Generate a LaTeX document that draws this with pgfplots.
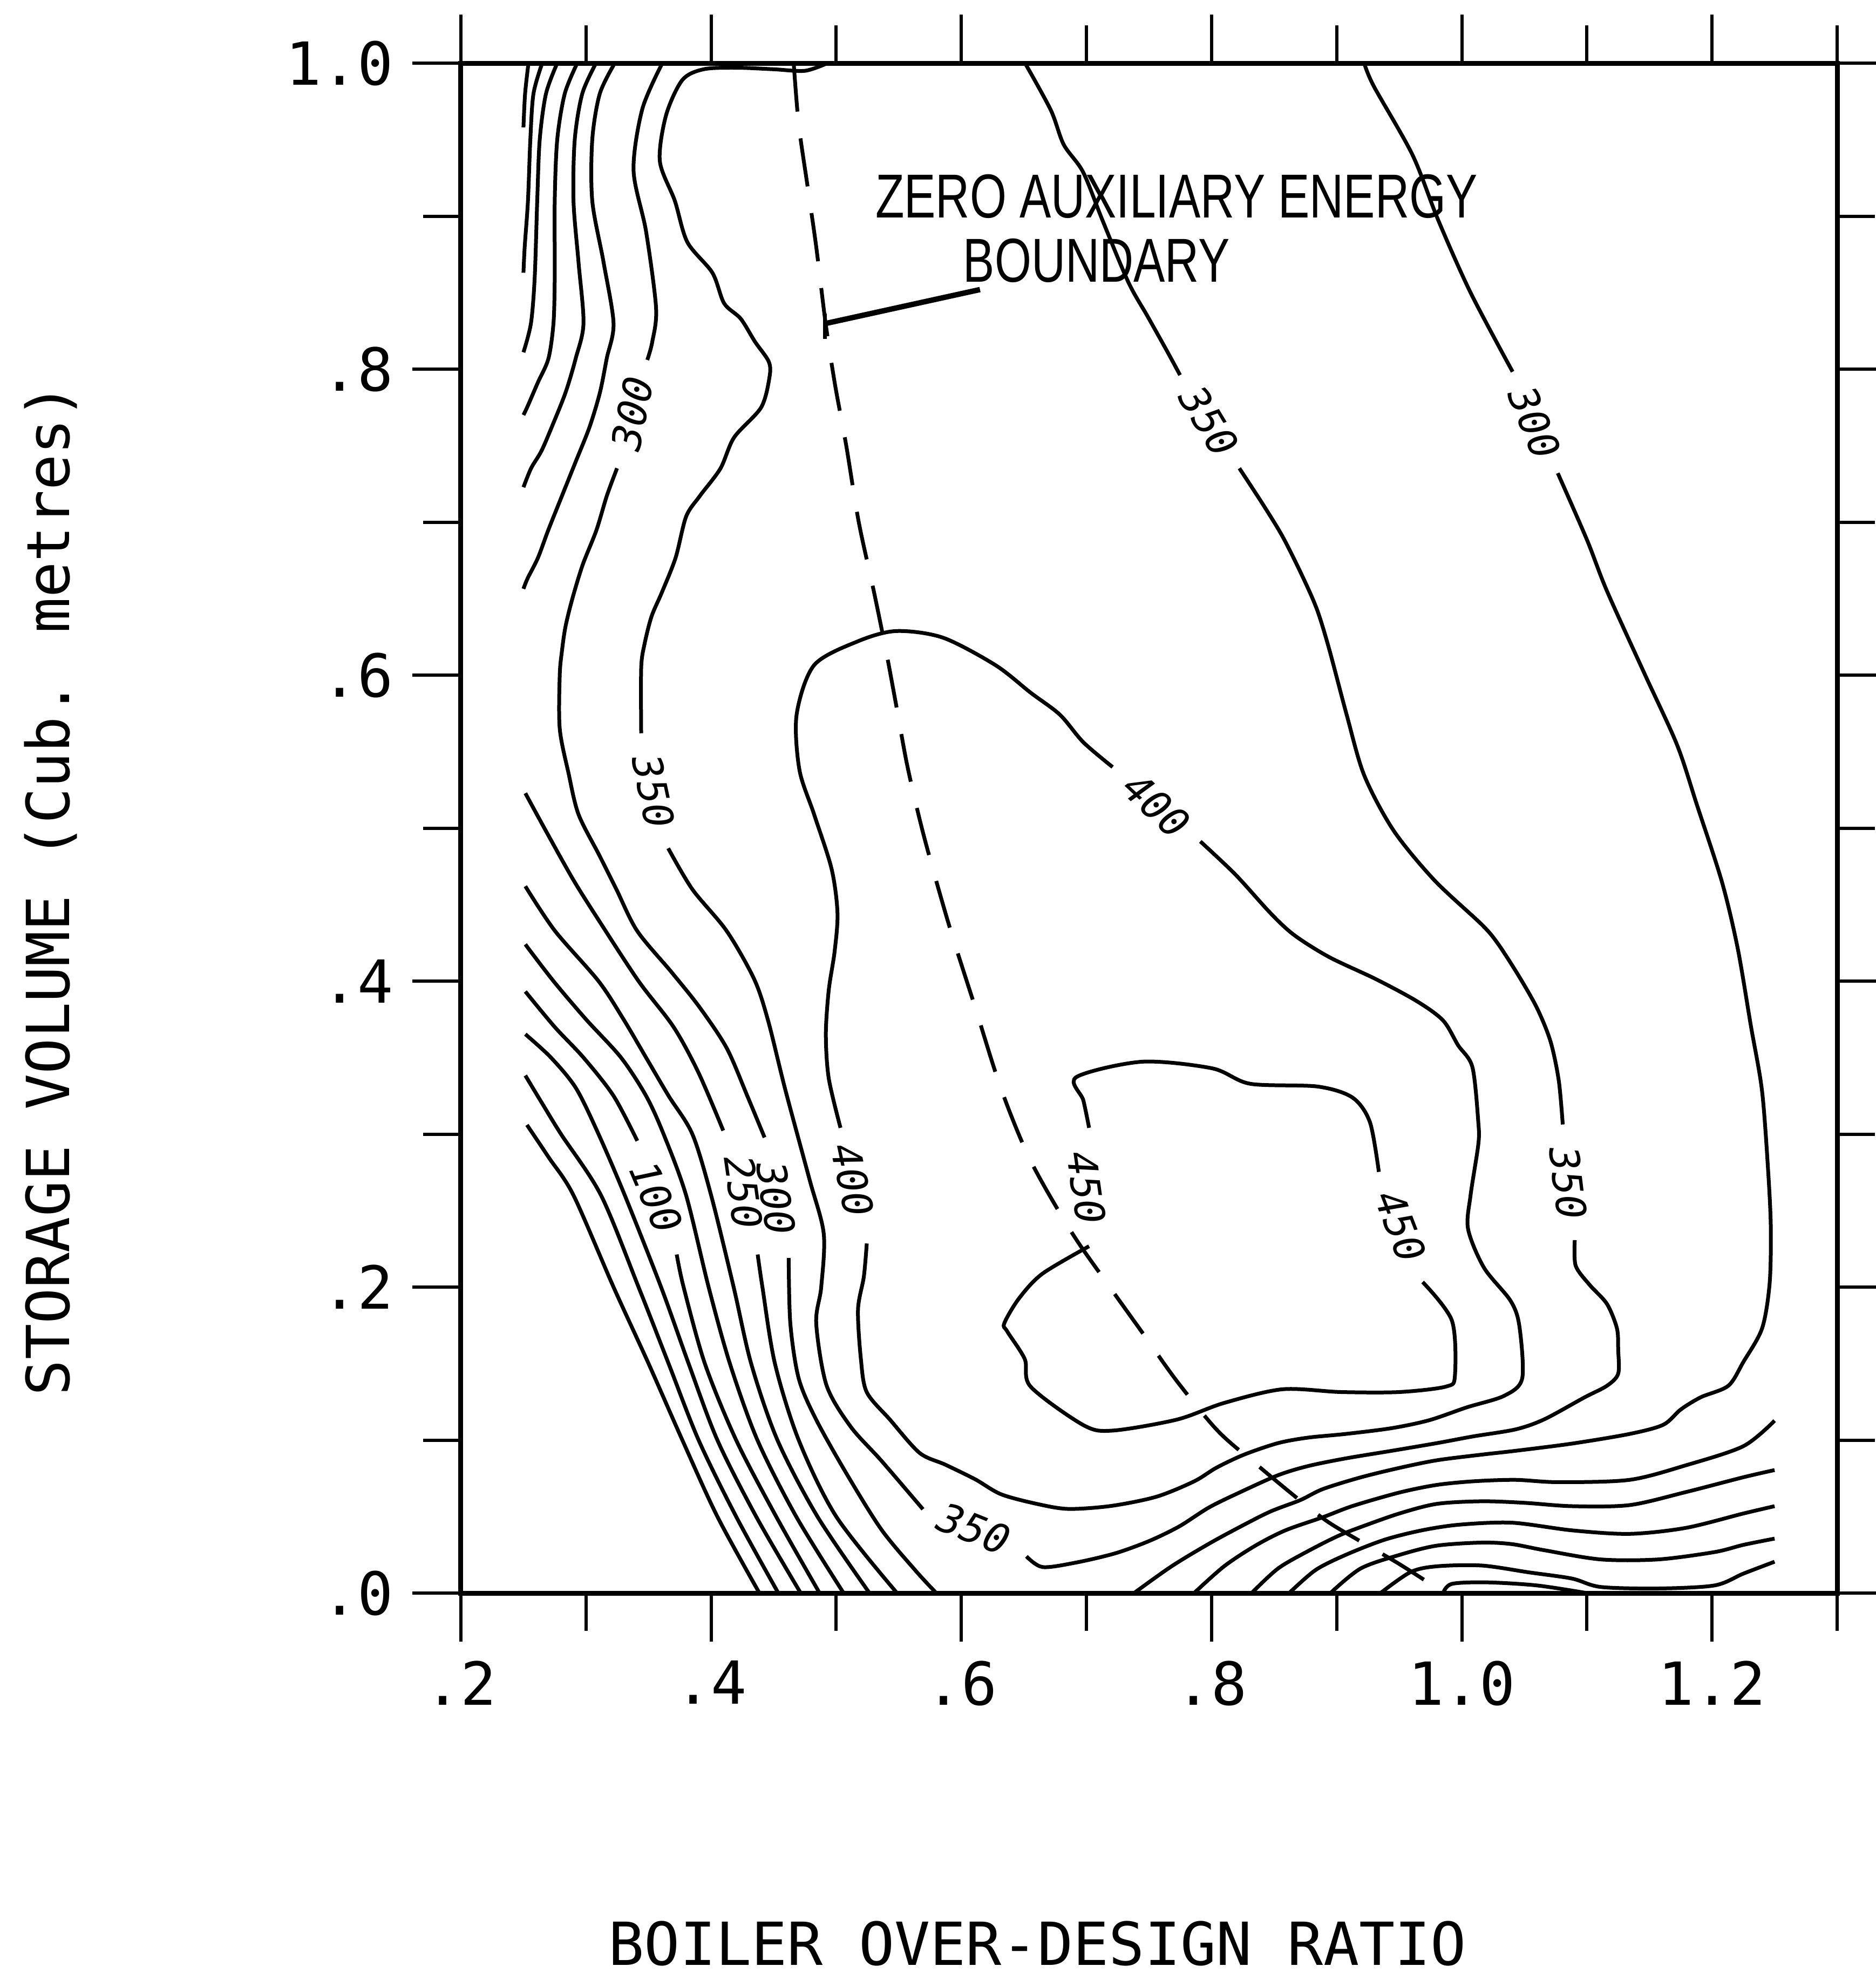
\documentclass[border=0pt]{standalone}
\usepackage{fontspec}
\usepackage{graphicx}
\usepackage{pgfplots}
\pgfplotsset{compat=1.18}
\setmainfont{DejaVu Sans Mono}
\newfontfamily\annfont{Liberation Sans}
\newfontfamily\labfont{DejaVu Sans Mono}
\newcommand\clab{\labfont\itshape\fontsize{7.5}{8}\selectfont}
\begin{document}
\begin{tikzpicture}
\begin{axis}[
  scale only axis, width=255pt, height=283.5pt,
  xmin=0.2, xmax=1.3, ymin=0, ymax=1,
  axis line style={line width=0.9pt},
  tick align=outside,
  major tick length=9pt, minor tick length=7pt,
  every tick/.style={black,line width=0.6pt},
  xtick={0.2,0.4,0.6,0.8,1.0,1.2}, xticklabels={.2,.4,.6,.8,1.0,1.2},
  minor xtick={0.3,0.5,0.7,0.9,1.1,1.3},
  ytick={0,0.2,0.4,0.6,0.8,1.0}, yticklabels={.0,.2,.4,.6,.8,1.0},
  minor ytick={0.1,0.3,0.5,0.7,0.9},
  tick label style={font=\fontsize{11}{13}\selectfont},
  xlabel={BOILER OVER-DESIGN RATIO},
  ylabel={STORAGE VOLUME (Cub. metres)},
  label style={font=\fontsize{11}{13}\selectfont},
  xlabel style={at={(axis description cs:0.419,-0.229)},anchor=center},
  ylabel style={at={(axis description cs:-0.298,0.46)},anchor=center},
  cycle list={{black,solid}},
  every axis plot/.append style={line width=0.7pt, black, smooth, no marks},
]
% ---------- top-left family (0 ... 250)
\addplot coordinates {(0.254,1.0) (0.2513,0.98) (0.25,0.958)};
\addplot coordinates {(0.265,1.0) (0.258,0.98) (0.2555,0.95) (0.2536,0.91) (0.251,0.88) (0.25,0.863)};
\addplot coordinates {(0.277,1.0) (0.268,0.98) (0.263,0.95) (0.261,0.91) (0.259,0.86) (0.256,0.83) (0.25,0.811)};
\addplot coordinates {(0.293,1.0) (0.283,0.98) (0.277,0.95) (0.275,0.91) (0.275,0.86) (0.274,0.83) (0.27,0.807) (0.2616,0.7914) (0.2533,0.7757) (0.25,0.770)};
\addplot coordinates {(0.308,1.0) (0.297,0.98) (0.291,0.95) (0.29,0.91) (0.294,0.87) (0.298,0.83) (0.2918,0.8071) (0.2836,0.7846) (0.2726,0.7621) (0.2643,0.7464) (0.2561,0.7352) (0.25,0.7228)};
\addplot coordinates {(0.323,1.0) (0.311,0.98) (0.305,0.95) (0.305,0.91) (0.314,0.87) (0.322,0.83) (0.3166,0.8071) (0.3111,0.7846) (0.3028,0.7621) (0.2918,0.7396) (0.2808,0.7172) (0.2698,0.6947) (0.2616,0.6767) (0.2533,0.6632) (0.25,0.6564)};
% ---------- 300 (left)
\addplot coordinates {(0.361,1.0) (0.345,0.97) (0.338,0.93) (0.348,0.89) (0.356,0.84) (0.353,0.818) (0.349,0.806)};
\addplot coordinates {(0.3248,0.7352) (0.3166,0.7171) (0.3083,0.6947) (0.2973,0.672) (0.289,0.6497) (0.2836,0.6317) (0.2808,0.616) (0.279,0.6) (0.279,0.565) (0.286,0.536) (0.294,0.509) (0.3106,0.4823) (0.3244,0.4598) (0.3409,0.4328) (0.3684,0.4058) (0.3904,0.3833) (0.4124,0.3563) (0.429,0.3248) (0.4427,0.2978)};
\addplot coordinates {(0.462,0.219) (0.4633,0.1763) (0.470,0.1403) (0.484,0.1133) (0.5087,0.0774) (0.5362,0.0414) (0.5637,0.0144) (0.580,0.0)};
% ---------- lower-left family (250 ... -50)
\addplot coordinates {(0.2515,0.5228) (0.2694,0.496) (0.29,0.466) (0.31,0.44) (0.342,0.40) (0.37,0.37) (0.39,0.34) (0.4097,0.3023)};
\addplot coordinates {(0.4372,0.2213) (0.441,0.2) (0.451,0.15) (0.470,0.1) (0.50,0.05) (0.5486,0)};
\addplot coordinates {(0.2515,0.462) (0.275,0.433) (0.31,0.40) (0.33,0.375) (0.348,0.35) (0.366,0.325) (0.385,0.30) (0.40,0.26) (0.418,0.2) (0.432,0.15) (0.453,0.1) (0.485,0.05) (0.5266,0)};
\addplot coordinates {(0.2515,0.424) (0.274,0.40) (0.30,0.375) (0.328,0.35) (0.348,0.325) (0.362,0.30) (0.38,0.26) (0.398,0.2) (0.415,0.15) (0.437,0.1) (0.468,0.05) (0.5059,0)};
\addplot coordinates {(0.2515,0.3932) (0.275,0.37) (0.298,0.35) (0.322,0.325) (0.341,0.2956)};
\addplot coordinates {(0.3725,0.2213) (0.378,0.2) (0.395,0.15) (0.42,0.1) (0.452,0.05) (0.4867,0)};
\addplot coordinates {(0.2515,0.3653) (0.272,0.35) (0.292,0.33) (0.31,0.30) (0.331,0.26) (0.36,0.2) (0.382,0.15) (0.405,0.1) (0.436,0.05) (0.4716,0)};
\addplot coordinates {(0.2515,0.3383) (0.265,0.32) (0.28,0.30) (0.312,0.26) (0.342,0.2) (0.366,0.15) (0.39,0.1) (0.42,0.05) (0.4537,0)};
\addplot coordinates {(0.2528,0.306) (0.27,0.285) (0.29,0.26) (0.322,0.2) (0.35,0.15) (0.377,0.1) (0.405,0.05) (0.4386,0)};
% ---------- 350
\addplot coordinates {(0.493,1.0) (0.475,0.995) (0.45,0.996) (0.42,0.997) (0.394,0.996) (0.377,0.989) (0.364,0.966) (0.359,0.936) (0.371,0.91) (0.381,0.883) (0.401,0.863) (0.4104,0.843) (0.4236,0.833) (0.435,0.818) (0.446,0.805) (0.4467,0.795) (0.44,0.775) (0.4184,0.7554) (0.4074,0.735) (0.3909,0.717) (0.380,0.7036) (0.3716,0.6767) (0.3606,0.654) (0.3524,0.6384) (0.3468,0.6204) (0.3441,0.6047) (0.3441,0.562)};
\addplot coordinates {(0.3657,0.4868) (0.385,0.460) (0.4124,0.4328) (0.4344,0.4013) (0.4455,0.3743) (0.4592,0.3293) (0.4785,0.2708) (0.490,0.235) (0.488,0.20) (0.484,0.1763) (0.4922,0.1359) (0.5115,0.1088) (0.5362,0.0864) (0.5693,0.0548)};
\addplot coordinates {(0.652,0.024) (0.665,0.017) (0.692,0.020) (0.723,0.026) (0.750,0.034) (0.774,0.0435) (0.798,0.056) (0.823,0.066) (0.853,0.077) (0.877,0.083) (0.907,0.088) (0.944,0.093) (0.980,0.098) (1.009,0.1024) (1.043,0.107) (1.066,0.1136) (1.0976,0.1277) (1.116,0.1355) (1.125,0.1434) (1.125,0.159) (1.124,0.173) (1.116,0.189) (1.102,0.2016) (1.091,0.214) (1.0903,0.2307)};
\addplot coordinates {(1.0807,0.3063) (1.0775,0.335) (1.071,0.3603) (1.0604,0.3819) (1.0455,0.4034) (1.0284,0.425) (1.0155,0.4373) (0.978,0.466) (0.9454,0.4985) (0.922,0.5345) (0.908,0.574) (0.8939,0.6173) (0.8842,0.643) (0.8721,0.6655) (0.857,0.6902) (0.8419,0.7105) (0.8222,0.7352)};
\addplot coordinates {(0.7748,0.7961) (0.7644,0.8118) (0.749,0.8343) (0.7335,0.8568) (0.7128,0.8973) (0.6973,0.9288) (0.6818,0.9468) (0.6715,0.9693) (0.6509,1.0)};
% ---------- 300 (right / bottom)
\addplot coordinates {(0.922,1.0) (0.9296,0.985) (0.9606,0.940) (0.9812,0.8973) (1.007,0.850) (1.0406,0.7983)};
\addplot coordinates {(1.0767,0.732) (1.100,0.6885) (1.116,0.655) (1.146,0.601) (1.172,0.5545) (1.188,0.515) (1.208,0.4646) (1.2205,0.4215) (1.231,0.371) (1.240,0.328) (1.245,0.274) (1.247,0.238) (1.246,0.202) (1.240,0.173) (1.225,0.151) (1.213,0.1355) (1.191,0.128) (1.175,0.120) (1.161,0.110) (1.134,0.104) (1.088,0.0977) (1.043,0.093) (1.016,0.0905) (0.980,0.0868) (0.950,0.0818) (0.919,0.0756) (0.889,0.068) (0.871,0.0608) (0.847,0.0533) (0.823,0.0434) (0.798,0.0323) (0.768,0.0175) (0.738,0.0)};
% ---------- lower-right family (250 ... 0)
\addplot coordinates {(0.786,0) (0.810,0.0175) (0.835,0.031) (0.859,0.041) (0.889,0.0496) (0.913,0.057) (0.950,0.0657) (0.980,0.0707) (1.010,0.0731) (1.043,0.074) (1.077,0.0725) (1.134,0.074) (1.179,0.0835) (1.225,0.096) (1.250,0.1127)};
\addplot coordinates {(0.832,0) (0.853,0.016) (0.877,0.0274) (0.901,0.0373) (0.920,0.0434) (0.950,0.052) (0.980,0.0583) (1.016,0.060) (1.05,0.059) (1.088,0.0568) (1.134,0.0575) (1.179,0.066) (1.225,0.0757) (1.250,0.0804)};
\addplot coordinates {(0.862,0) (0.883,0.015) (0.907,0.0249) (0.938,0.0348) (0.968,0.041) (0.998,0.0447) (1.04,0.046) (1.088,0.041) (1.134,0.0387) (1.179,0.0426) (1.225,0.052) (1.250,0.0568)};
\addplot coordinates {(0.895,0) (0.919,0.016) (0.950,0.0249) (0.980,0.031) (1.016,0.033) (1.04,0.032) (1.066,0.028) (1.111,0.022) (1.157,0.022) (1.202,0.0268) (1.225,0.0315) (1.250,0.0356)};
\addplot coordinates {(0.935,0) (0.959,0.0137) (0.980,0.0175) (1.016,0.018) (1.054,0.0135) (1.088,0.0095) (1.111,0.004) (1.157,0.003) (1.202,0.005) (1.225,0.0127) (1.250,0.0205)};
\addplot coordinates {(0.985,0) (0.992,0.006) (1.02,0.007) (1.06,0.005) (1.10,0.0)};
% ---------- 400 loop
\addplot coordinates {(0.791,0.4913) (0.819,0.4697) (0.847,0.4445) (0.866,0.4301) (0.894,0.4157) (0.9313,0.4013) (0.964,0.3869) (0.985,0.3743) (0.997,0.3581) (1.0085,0.3437) (1.0132,0.3077) (1.0132,0.2933) (1.007,0.26) (1.005,0.238) (1.0177,0.2127) (1.039,0.191) (1.046,0.1746) (1.0483,0.1404) (1.034,0.129) (1.004,0.1214) (0.974,0.113) (0.944,0.1078) (0.907,0.104) (0.877,0.1016) (0.853,0.098) (0.826,0.0905) (0.804,0.082) (0.786,0.073) (0.756,0.063) (0.72,0.057) (0.686,0.055) (0.662,0.058) (0.632,0.0645) (0.611,0.0744) (0.587,0.084) (0.5665,0.0917) (0.543,0.1133) (0.5244,0.1313) (0.5197,0.153) (0.5174,0.1853) (0.5221,0.207) (0.5244,0.2285)};
\addplot coordinates {(0.5034,0.3041) (0.494,0.3365) (0.4917,0.3653) (0.494,0.394) (0.4987,0.4193) (0.501,0.4445) (0.4963,0.4733) (0.4823,0.509) (0.4706,0.538) (0.4683,0.574) (0.4823,0.6065) (0.517,0.622) (0.5478,0.6288) (0.5852,0.6245) (0.6273,0.6065) (0.6554,0.5885) (0.6788,0.5741) (0.6975,0.5561) (0.7209,0.5399)};
% ---------- 450 loop
\addplot coordinates {(0.7021,0.3041) (0.6975,0.3221) (0.6918,0.3372) (0.7443,0.3473) (0.8004,0.343) (0.8308,0.3329) (0.8846,0.3311) (0.9126,0.3239) (0.9266,0.3077) (0.9337,0.2753)};
\addplot coordinates {(0.9687,0.2033) (0.9921,0.1781) (0.9945,0.1421) (0.9875,0.135) (0.95,0.1314) (0.9033,0.1314) (0.8565,0.1332) (0.8097,0.1242) (0.7723,0.1134) (0.7208,0.1062) (0.6975,0.1098) (0.6554,0.1349) (0.6507,0.1529) (0.6367,0.171) (0.6343,0.1763) (0.646,0.1925) (0.6647,0.2087) (0.7021,0.2267)};
% ---------- zero auxiliary energy boundary
\addplot[dash pattern=on 9pt off 5pt, line width=0.7pt] coordinates {(0.466,1.0) (0.470,0.96) (0.477,0.92) (0.484,0.88) (0.4915,0.83) (0.499,0.79) (0.508,0.75) (0.518,0.70) (0.530,0.655) (0.540,0.615) (0.548,0.58) (0.557,0.54) (0.570,0.495) (0.59,0.437) (0.611,0.383) (0.632,0.329) (0.6554,0.2825) (0.688,0.236) (0.716,0.203) (0.744,0.171) (0.7723,0.1385) (0.805,0.106) (0.836,0.084) (0.870,0.061) (0.894,0.046) (0.925,0.031) (0.950,0.019) (0.975,0.006)};
\addplot[sharp plot, line width=1pt] coordinates {(0.4908,0.8297) (0.6149,0.852)};
\addplot[sharp plot, line width=0.7pt] coordinates {(0.4908,0.8197) (0.4908,0.8365)};
% ---------- contour labels
\node[font=\clab, rotate=78] at (axis cs:0.337,0.771) {300};
\node[font=\clab, rotate=-59] at (axis cs:0.798,0.766) {350};
\node[font=\clab, rotate=-68] at (axis cs:1.058,0.765) {300};
\node[font=\clab, rotate=-78] at (axis cs:0.354,0.524) {350};
\node[font=\clab, rotate=-43] at (axis cs:0.756,0.515) {400};
\node[font=\clab, rotate=-67] at (axis cs:0.356,0.259) {100};
\node[font=\clab, rotate=-82, inner sep=1pt] at (axis cs:0.426,0.262) {250};
\node[font=\clab, rotate=-82, inner sep=1pt] at (axis cs:0.452,0.258) {300};
\node[font=\clab, rotate=-78] at (axis cs:0.513,0.270) {400};
\node[font=\clab, rotate=-82] at (axis cs:0.700,0.265) {450};
\node[font=\clab, rotate=-69] at (axis cs:0.951,0.240) {450};
\node[font=\clab, rotate=-83] at (axis cs:1.085,0.268) {350};
\node[font=\clab, rotate=-22] at (axis cs:0.610,0.042) {350};
% ---------- annotation
\node[font=\annfont\fontsize{11.5}{12}\selectfont, inner sep=0pt] at (axis cs:0.772,0.913) {\scalebox{0.76}[1]{ZERO AUXILIARY ENERGY}};
\node[font=\annfont\fontsize{11.5}{12}\selectfont, inner sep=0pt] at (axis cs:0.708,0.871) {\scalebox{0.76}[1]{BOUNDARY}};
\end{axis}
\pgfresetboundingbox
\path ([xshift=-85.4pt,yshift=-71.7pt]current axis.south west) rectangle ([xshift=7.2pt,yshift=11.7pt]current axis.north east);
\end{tikzpicture}
\end{document}
